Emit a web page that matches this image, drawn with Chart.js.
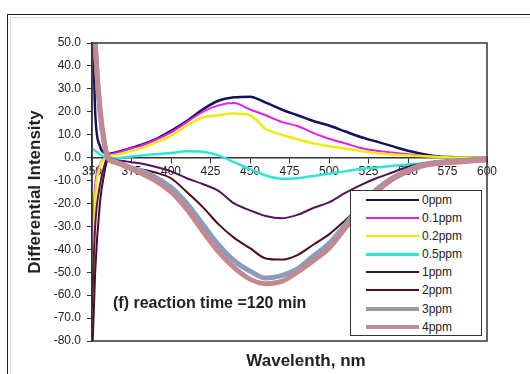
<!DOCTYPE html>
<html lang="en">
<head>
    <meta charset="UTF-8">
    <title>Differential Intensity</title>
    <script src="https://cdn.jsdelivr.net/npm/chart.js"></script>
    <style>
        body { margin: 0; background: #fff; font-family: "Liberation Sans", Arial, sans-serif; }
        .wrap { position: relative; width: 530px; height: 374px; overflow: hidden; }
        .frame { position: absolute; left: 7px; top: 14px; width: 600px; height: 400px; border: 1.5px solid #222; }
        .frame2 { position: absolute; left: 10px; top: 17px; width: 600px; height: 400px; border: 1px solid #ddd; }
        canvas { position: absolute; left: 0; top: 0; }
        .note { position: absolute; left: 113px; top: 294px; font-size: 16px; font-weight: bold; color: #222; white-space: nowrap; }
        .xtitle { position: absolute; left: 0; width: 612px; top: 351px; text-align: center; font-size: 17px; font-weight: bold; color: #222; }
        #legend { position: absolute; left: 350px; top: 190px; width: 130px; height: 144px; border: 1.5px solid #333; background: #fff; }
        .row { position: relative; height: 18.1px; }
        .row .ln { position: absolute; left: 15px; width: 53px; }
        .row .tx { position: absolute; left: 71px; top: 2px; font-size: 12px; color: #222; }
    </style>
</head>
<body>
<div class="wrap">
    <div class="frame"></div>
    <div class="frame2"></div>
    <canvas id="chart" width="530" height="374"></canvas>
    <div class="note">(f) reaction time =120 min</div>
    <div class="xtitle">Wavelenth, nm</div>
    <div id="legend"></div>
</div>
<script>
    // wavelength (nm)
    const wavelengths = [350, 352, 355, 358, 360, 365, 370, 375, 380, 390, 400, 410, 420, 430, 440, 450,
                         460, 470, 480, 490, 500, 510, 520, 530, 540, 550, 560, 570, 580, 590, 600];

    const ppm0   = [80, 20, 5, 2, 1.5, 2.3, 3.2, 4.3, 5.3, 8, 11.7, 16, 21, 24.8, 26.3, 26.6,
                    24, 21, 18.5, 16, 14, 11.5, 9, 7, 5, 3, 1.5, 0.5, 0.2, 0, 0];
    const ppm01  = [-40, -12, -3, 0, 1, 2, 3, 4.2, 5, 7.7, 11, 15.5, 20, 22.8, 23.8, 21,
                    18.5, 15.6, 13.8, 10.8, 8.2, 6.3, 4.2, 3, 2.2, 1.5, 0.8, 0.3, 0, 0, 0];
    const ppm02  = [-60, -18, -4, -0.5, 0.5, 1.2, 2, 2.9, 3.8, 6.5, 9.5, 14, 17.5, 18.5, 19.2, 18.5,
                    12.5, 10, 8, 6.2, 5, 4, 2.9, 2, 1.4, 1, 0.6, 0.3, 0, 0, 0];
    const ppm05  = [4, 3, 1.5, 0.3, 0, -0.3, 0, 0.5, 0.8, 1.5, 2, 2.8, 2.6, 1, -2, -5,
                    -7.8, -9.2, -9, -8, -7, -6, -5, -4.3, -3.6, -3, -2.6, -2.3, -1.8, -1.2, -0.5];
    const ppm1   = [-65, -30, -12, -3, 0, -1, -1.5, -2, -2.5, -4, -6, -9, -11.5, -14.5, -20, -23,
                    -25.5, -26.5, -25, -22, -19.5, -15.5, -12, -9, -6.5, -4, -2.5, -1.5, -1, -0.5, 0];
    const ppm2   = [-90, -50, -20, -6, -1.5, -2.5, -3.5, -4.5, -5, -6.5, -9, -15, -21.5, -29, -35, -39.5,
                    -44, -44.5, -42.5, -38, -33.5, -27.5, -21, -15, -10, -6, -3.5, -2, -1.5, -1, -0.5];
    const ppm3   = [80, 50, 20, 5, 0, -2, -3, -4.5, -5.5, -8.5, -13, -20, -29, -38, -45, -49.5,
                    -52.5, -51.5, -48.5, -43, -37.5, -29.5, -21, -14, -9, -5.5, -3, -2, -1.5, -1, -0.5];
    const ppm4   = [80, 50, 22, 6, 0.5, -2, -3.5, -5, -6.5, -10, -15, -22.5, -32, -41, -48, -53,
                    -55, -54, -50, -45, -39.5, -31, -22.5, -15, -9.5, -6, -3.5, -2.5, -2, -1.5, -1];

    const seriesNames  = ['0ppm', '0.1ppm', '0.2ppm', '0.5ppm', '1ppm', '2ppm', '3ppm', '4ppm'];
    const seriesValues = [ppm0, ppm01, ppm02, ppm05, ppm1, ppm2, ppm3, ppm4];
    const seriesColors = ['#14145e', '#e81ee8', '#ecec10', '#2ee6d6', '#561256', '#4e0c1c', '#8e9cbc', '#c38890'];
    const seriesWidths = [2.5, 2, 2.5, 2.5, 2, 2, 5, 5];
    const legendColors = ['#14145e', '#e81ee8', '#ecec10', '#2ee6d6', '#3a1040', '#4e0c1c', '#9a9a9e', '#b89098'];

    const yTicks = { min: -80, max: 50, step: 10 };
    const xTicks = { min: 350, max: 600, step: 25 };

    Chart.defaults.font.family = '"Liberation Sans", Arial, sans-serif';
    Chart.defaults.color = '#222';

    const plotFrame = {
        id: 'plotFrame',
        afterDatasetsDraw(chart) {
            const { ctx, chartArea: a } = chart;
            ctx.save();
            ctx.strokeStyle = '#333';
            ctx.lineWidth = 1.5;
            ctx.strokeRect(a.left, a.top, a.right - a.left, a.bottom - a.top);
            ctx.restore();
        }
    };

    const datasets = seriesNames.map((name, i) => ({
        label: name,
        data: wavelengths.map((w, j) => ({ x: w, y: seriesValues[i][j] })),
        borderColor: seriesColors[i],
        borderWidth: seriesWidths[i],
        borderJoinStyle: 'round',
        borderCapStyle: 'round',
        pointRadius: 0,
        cubicInterpolationMode: 'monotone',
        fill: false,
        order: seriesNames.length - i
    }));

    const chart = new Chart(document.getElementById('chart'), {
        type: 'line',
        data: { datasets: datasets },
        options: {
            responsive: false,
            animation: false,
            layout: { padding: { left: 20, top: 43, right: 43, bottom: 33 } },
            plugins: { legend: { display: false }, tooltip: { enabled: false } },
            scales: {
                x: {
                    type: 'linear',
                    position: { y: 0 },
                    min: xTicks.min, max: xTicks.max,
                    afterFit: s => { s.height = 0; },
                    ticks: { stepSize: xTicks.step, font: { size: 12 }, padding: 2, maxRotation: 0 },
                    grid: { drawOnChartArea: false, tickLength: 5, color: '#333', lineWidth: 1 },
                    border: { color: '#333', width: 1.5 }
                },
                y: {
                    min: yTicks.min, max: yTicks.max,
                    afterFit: s => { s.width = 72; },
                    ticks: { stepSize: yTicks.step, font: { size: 12 }, padding: 6, callback: v => v.toFixed(1) },
                    grid: { drawOnChartArea: false, tickLength: 5, color: '#333', lineWidth: 1 },
                    border: { color: '#333', width: 1.5 },
                    title: { display: true, text: 'Differential Intensity', font: { size: 17, weight: 'bold' }, padding: { top: 5 } }
                }
            }
        },
        plugins: [plotFrame]
    });

    // legend box built from the chart datasets
    const legend = document.getElementById('legend');
    chart.data.datasets.forEach((ds, i) => {
        const row = document.createElement('div');
        row.className = 'row';
        const ln = document.createElement('span');
        ln.className = 'ln';
        const w = Math.min(ds.borderWidth, 4);
        ln.style.height = w + 'px';
        ln.style.top = (9 - w / 2) + 'px';
        ln.style.background = legendColors[i];
        const tx = document.createElement('span');
        tx.className = 'tx';
        tx.textContent = ds.label;
        row.appendChild(ln);
        row.appendChild(tx);
        legend.appendChild(row);
    });
</script>
</body>
</html>
